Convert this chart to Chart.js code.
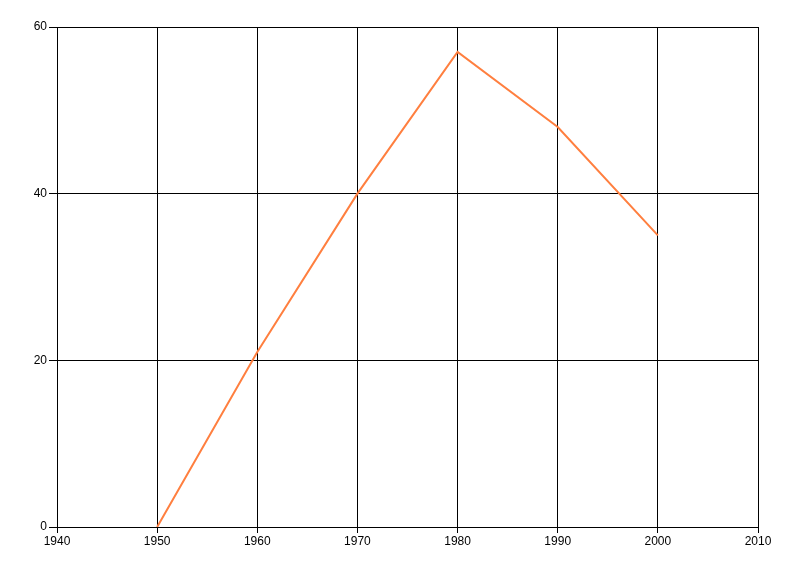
<!DOCTYPE html>
<html>
<head>
<meta charset="utf-8">
<script src="https://cdn.jsdelivr.net/npm/chart.js@4/dist/chart.umd.min.js"></script>
<style>
  html, body { margin: 0; padding: 0; background: #fff; }
  #wrap { width: 800px; height: 576px; }
</style>
</head>
<body>
<div id="wrap"><canvas id="c" width="800" height="576"></canvas></div>
<script>
// ---- data ------------------------------------------------------------------
const years  = [1950, 1960, 1970, 1980, 1990, 2000];
const values = [0, 21, 40, 57, 48, 35];

const X_MIN = 1940, X_MAX = 2010, X_STEP = 10;
const Y_MIN = 0,    Y_MAX = 60,   Y_STEP = 20;

const FONT = { family: '"Liberation Sans", Arial, sans-serif', size: 12 };

new Chart(document.getElementById('c').getContext('2d'), {
  type: 'line',
  data: {
    datasets: [{
      data: years.map((x, i) => ({ x, y: values[i] })),
      borderColor: '#ff7f3f',
      borderWidth: 2,
      pointRadius: 0,
      tension: 0,
    }],
  },
  options: {
    responsive: false,
    animation: false,
    layout: { padding: { top: 27, right: 42, left: 0, bottom: 0 } },
    plugins: { legend: { display: false }, tooltip: { enabled: false } },
    scales: {
      x: {
        type: 'linear', min: X_MIN, max: X_MAX,
        afterFit: s => { s.height = 49; },
        grid: { color: '#000', lineWidth: 1, tickLength: 6, tickColor: '#000' },
        border: { color: '#000', width: 1 },
        ticks: { stepSize: X_STEP, color: '#000', font: FONT, padding: 1,
                 maxRotation: 0, callback: v => String(v) },
      },
      y: {
        min: Y_MIN, max: Y_MAX,
        afterFit: s => { s.width = 57; },
        grid: { color: '#000', lineWidth: 1, tickLength: 8, tickColor: '#000' },
        border: { color: '#000', width: 1 },
        ticks: { stepSize: Y_STEP, color: '#000', font: FONT, padding: 2,
                 callback: v => String(v) },
      },
    },
  },
});
</script>
</body>
</html>
